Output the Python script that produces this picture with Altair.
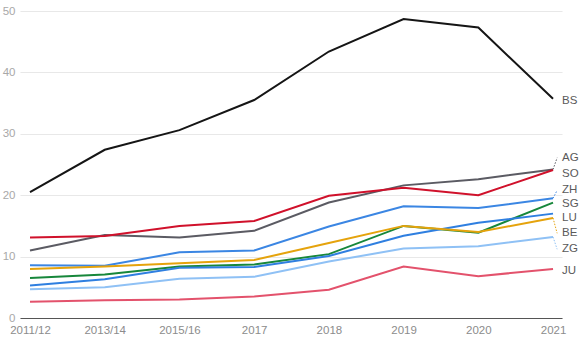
import altair as alt
import pandas as pd

periods = ["2011/12", "2013/14", "2015/16", "2017", "2018", "2019", "2020", "2021"]

cantons = ["BS", "AG", "SO", "ZH", "SG", "LU", "BE", "ZG", "JU"]
colors = ["#151515", "#5b5b63", "#d0112b", "#3b86e3", "#17873b", "#2f7fe0", "#e5a30c", "#8fc1f5", "#e3526c"]

BS = [20.5, 27.4, 30.6, 35.5, 43.4, 48.7, 47.3, 35.7]
AG = [11.0, 13.5, 13.1, 14.2, 18.8, 21.6, 22.6, 24.2]
SO = [13.1, 13.35, 15.0, 15.8, 19.9, 21.2, 20.0, 24.1]
ZH = [8.6, 8.5, 10.7, 11.0, 14.9, 18.2, 17.9, 19.5]
SG = [6.5, 7.1, 8.4, 8.7, 10.4, 15.0, 13.9, 18.8]
LU = [5.3, 6.3, 8.2, 8.3, 10.1, 13.4, 15.5, 17.0]
BE = [8.0, 8.4, 8.9, 9.45, 12.2, 15.0, 14.0, 16.3]
ZG = [4.7, 5.0, 6.4, 6.7, 9.2, 11.3, 11.7, 13.2]
JU = [2.65, 2.9, 3.0, 3.5, 4.6, 8.4, 6.8, 8.0]
series = [BS, AG, SO, ZH, SG, LU, BE, ZG, JU]

# label positions (y, data units) at the right edge
label_y = [35.4, 26.1, 23.4, 20.8, 18.6, 16.3, 13.8, 11.2, 7.7]
leader = [False, True, False, True, False, False, True, True, False]

rows = []
for c, vals in zip(cantons, series):
    for i, v in enumerate(vals):
        rows.append({"canton": c, "i": i, "value": v})
df = pd.DataFrame(rows)

lab = pd.DataFrame({
    "canton": cantons,
    "i": [7] * len(cantons),
    "value": [s[-1] for s in series],
    "ly": label_y,
})
lead = lab[[l for l in leader]].copy()
lead = lab[leader].copy()
lead["i2"] = 7.055

color_scale = alt.Scale(domain=cantons, range=colors)
xscale = alt.Scale(domain=[-0.134, 7.12], nice=False, zero=False)
yscale = alt.Scale(domain=[0, 50], nice=False)

label_expr = "[" + ",".join("'%s'" % p for p in periods) + "][datum.value]"

lines = alt.Chart(df).mark_line(strokeWidth=2).encode(
    x=alt.X("i:Q", scale=xscale, axis=alt.Axis(
        values=list(range(8)), labelExpr=label_expr, title=None, grid=False,
        ticks=False, domain=True, domainColor="#555555", domainWidth=1,
        labelColor="#8c8c8c", labelFontSize=11.5, labelPadding=6,
        labelFont="Liberation Sans")),
    y=alt.Y("value:Q", scale=yscale, axis=alt.Axis(
        values=[0, 10, 20, 30, 40, 50], title=None, grid=True, gridColor="#e8e8e8",
        gridWidth=1.2, ticks=False, domain=False, labelColor="#a8a8a8",
        labelFontSize=11.5, labelPadding=5, labelFont="Liberation Sans")),
    color=alt.Color("canton:N", scale=color_scale, legend=None),
    detail="canton:N",
)

leaders = alt.Chart(lead).mark_rule(strokeWidth=1, strokeDash=[1.5, 1.5]).encode(
    x=alt.X("i:Q", scale=xscale),
    x2="i2:Q",
    y=alt.Y("value:Q", scale=yscale),
    y2="ly:Q",
    color=alt.Color("canton:N", scale=color_scale, legend=None),
)

labels = alt.Chart(lab).mark_text(
    align="left", baseline="middle", dx=9, fontSize=11.5, color="#5a5a5a",
    font="Liberation Sans"
).encode(
    x=alt.X("i:Q", scale=xscale),
    y=alt.Y("ly:Q", scale=yscale),
    text="canton:N",
)

chart = alt.layer(lines, leaders, labels).properties(
    width=542, height=307,
    autosize=alt.AutoSizeParams(type="none"),
    padding={"left": 20, "top": 11, "right": 20, "bottom": 25},
).configure_view(stroke=None)

chart.save("out.html", embed_options={"renderer": "svg", "actions": False})
